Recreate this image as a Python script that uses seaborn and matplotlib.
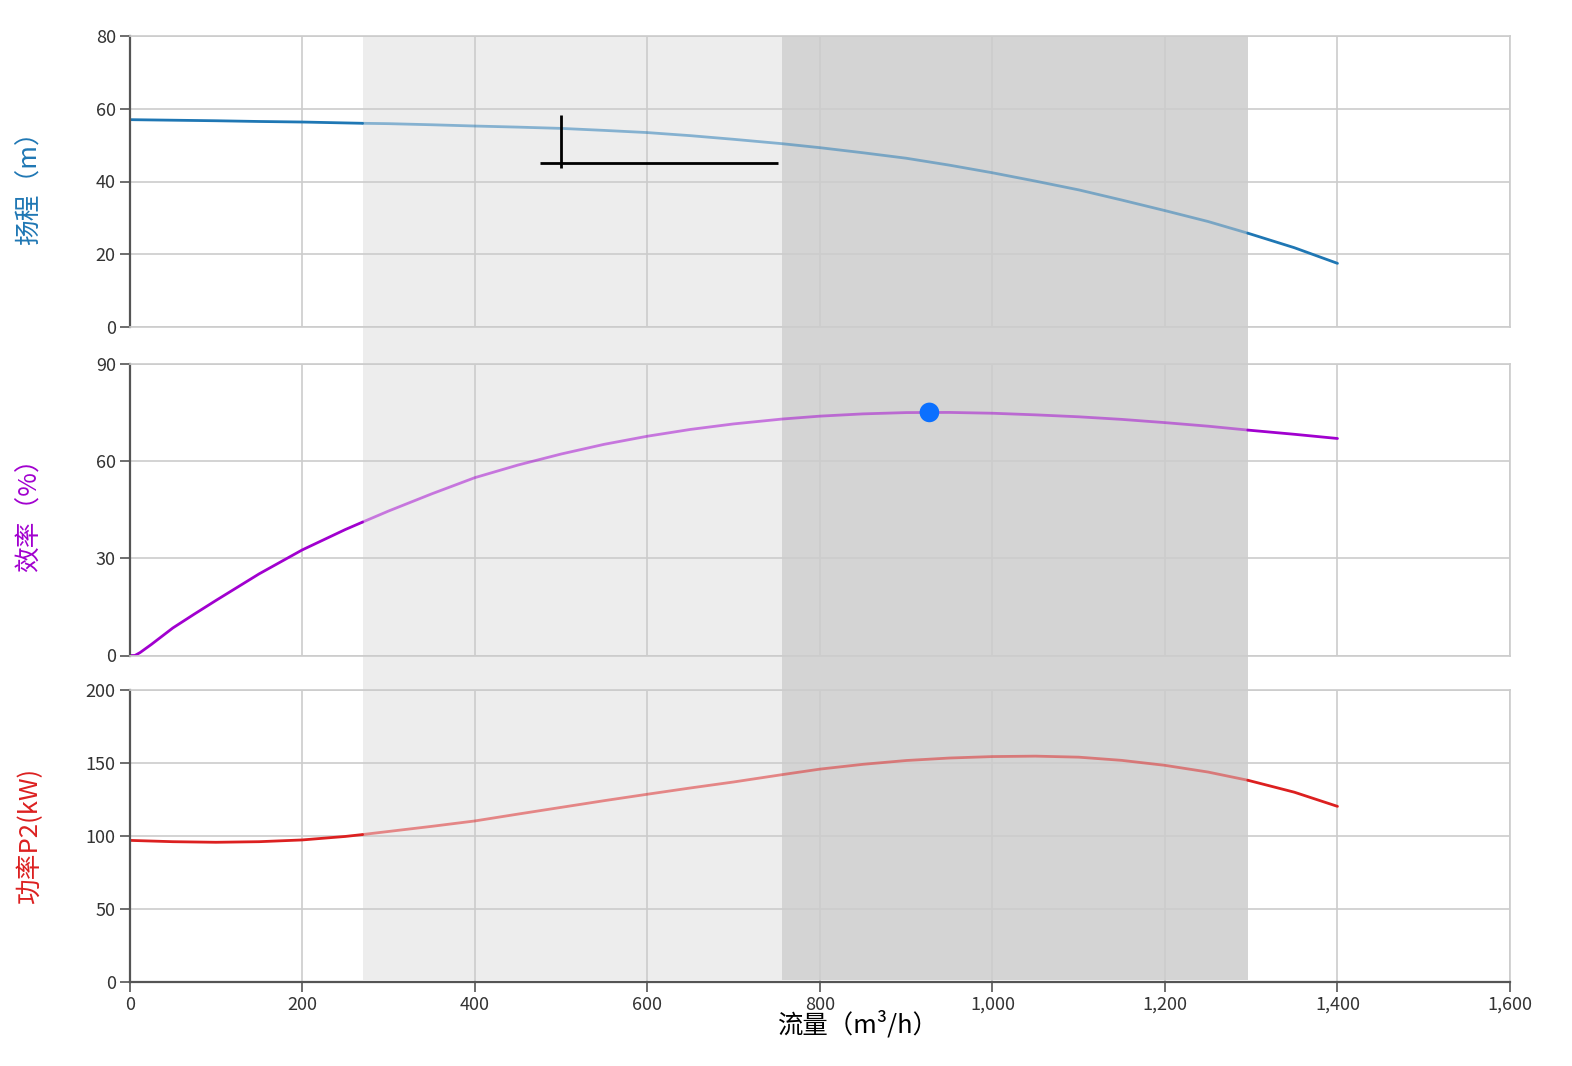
import numpy as np
import pandas as pd
import matplotlib
matplotlib.use("Agg")
import matplotlib.pyplot as plt
import seaborn as sns
from matplotlib.ticker import FuncFormatter, MultipleLocator

sns.set_theme(style="white")
plt.rcParams['font.family'] = ['Noto Sans CJK SC', 'DejaVu Sans']

# ---------------- data ----------------
q_head = [0, 50, 100, 150, 200, 250, 270, 300, 350, 400, 450, 500, 550, 600, 650, 700, 756,
          800, 850, 900, 950, 1000, 1050, 1100, 1150, 1200, 1250, 1296, 1350, 1400]
head = [57.0, 56.85, 56.7, 56.5, 56.35, 56.1, 56.0, 55.9, 55.6, 55.25, 54.95, 54.6, 54.05, 53.45,
        52.6, 51.6, 50.4, 49.3, 47.9, 46.4, 44.5, 42.4, 40.1, 37.7, 34.9, 32.0, 29.0, 25.8, 21.8, 17.5]

q_eff = [0, 6, 12, 25, 50, 75, 100, 150, 200, 250, 270, 300, 350, 400, 450, 500, 550, 600, 650,
         700, 756, 800, 850, 900, 950, 1000, 1050, 1100, 1150, 1200, 1250, 1296, 1350, 1400]
eff = [0.0, 0.0, 0.9, 3.4, 8.5, 12.8, 17.0, 25.2, 32.6, 38.9, 41.2, 44.6, 49.9, 54.9, 58.8, 62.2,
       65.2, 67.7, 69.8, 71.5, 73.0, 73.9, 74.6, 75.0, 75.05, 74.8, 74.3, 73.7, 72.9, 71.9, 70.8,
       69.6, 68.3, 67.0]

q_pow = [0, 50, 100, 150, 200, 250, 270, 300, 350, 400, 450, 500, 550, 600, 650, 700, 756, 800,
         850, 900, 950, 1000, 1050, 1100, 1150, 1200, 1250, 1296, 1350, 1400]
power = [97.0, 96.1, 95.7, 96.1, 97.3, 99.7, 101.0, 103.1, 106.6, 110.3, 115.0, 119.6, 124.2,
         128.6, 132.9, 137.0, 142.0, 145.8, 149.1, 151.7, 153.4, 154.4, 154.7, 154.0, 151.8,
         148.4, 143.8, 138.2, 130.0, 120.3]

bep_q = [927]
bep_eff = [75.05]

# duty point cross (flow span / head span)
duty_q = [500]
duty_h = [45.0]
duty_q_span = [476, 752]
duty_h_span = [43.8, 58.2]

band_light = [270, 756]
band_dark = [756, 1296]

x_ticks = [0, 200, 400, 600, 800, 1000, 1200, 1400, 1600]

C_HEAD = "#1f77b4"
C_EFF = "#a100cf"
C_POW = "#dc2020"
GRID = "#cccccc"
SPINE = "#555555"

# ---------------- figure ----------------
W, H = 1572, 1066
fig = plt.figure(figsize=(W / 100, H / 100), dpi=100)

left = 129.7 / W
width = (1510 - 129.7) / W

def fy(top_px, bot_px):
    return [left, 1 - bot_px / H, width, (bot_px - top_px) / H]

# background axes holding the shaded bands
bg = fig.add_axes(fy(36, 980), zorder=0)
bg.set_xlim(0, 1600)
bg.set_ylim(0, 1)
bg.axvspan(band_light[0], band_light[1], color="#ededed", lw=0)
bg.axvspan(band_dark[0], band_dark[1], color="#d4d4d4", lw=0)
bg.axis("off")

ax1 = fig.add_axes(fy(36, 327), zorder=2)
ax2 = fig.add_axes(fy(364, 655.5), zorder=2)
ax3 = fig.add_axes(fy(690, 982), zorder=2)
axes = [ax1, ax2, ax3]

def seg_plot(ax, xs, ys, color):
    df = pd.DataFrame({"q": xs, "v": ys})
    lo = df[df.q <= band_light[0]]
    mid = df[(df.q >= band_light[0]) & (df.q <= band_dark[1])]
    hi = df[df.q >= band_dark[1]]
    kw = dict(x="q", y="v", ax=ax, sort=False, estimator=None, lw=2.0)
    sns.lineplot(data=lo, color=color, **kw)
    sns.lineplot(data=mid, color=color, alpha=0.5, **kw)
    sns.lineplot(data=hi, color=color, **kw)

seg_plot(ax1, q_head, head, C_HEAD)
seg_plot(ax2, q_eff, eff, C_EFF)
seg_plot(ax3, q_pow, power, C_POW)

# duty cross
ax1.plot(duty_q_span, [duty_h[0], duty_h[0]], color="black", lw=2.0, solid_capstyle="butt")
ax1.plot([duty_q[0], duty_q[0]], duty_h_span, color="black", lw=2.0, solid_capstyle="butt")

# best efficiency point
sns.scatterplot(x=bep_q, y=bep_eff, ax=ax2, color="#0b70ff", s=200, edgecolor="none", zorder=5)

ylims = [(0, 80, 20), (0, 90, 30), (0, 200, 50)]
for ax, (lo, hi, st) in zip(axes, ylims):
    ax.set_facecolor("none")
    ax.set_xlim(0, 1600)
    ax.set_ylim(lo, hi)
    ax.yaxis.set_major_locator(MultipleLocator(st))
    ax.set_xticks(x_ticks)
    ax.set_axisbelow(True)
    ax.grid(True, color=GRID, lw=1.2)
    ax.set_xlabel("")
    ax.set_ylabel("")
    for s in ["top", "right", "bottom"]:
        ax.spines[s].set_color(GRID)
        ax.spines[s].set_linewidth(1.2)
    ax.spines["left"].set_color(SPINE)
    ax.spines["left"].set_linewidth(1.6)
    ax.tick_params(axis="y", direction="out", length=7, width=1.2, color=SPINE,
                   labelsize=13, labelcolor="#333333", pad=3, left=True)
    ax.tick_params(axis="x", bottom=False, labelbottom=False)

ax3.spines["bottom"].set_color(SPINE)
ax3.spines["bottom"].set_linewidth(1.6)
ax3.tick_params(axis="x", bottom=True, labelbottom=True, direction="out", length=7,
                width=1.2, color=SPINE, labelsize=13, labelcolor="#333333", pad=3)
ax3.xaxis.set_major_formatter(FuncFormatter(lambda v, p: f"{int(v):,}"))

# y labels
fig.text(30 / W, 1 - 182 / H, "扬程（m）", rotation=90, ha="center", va="center",
         color=C_HEAD, fontsize=18.5)
fig.text(30 / W, 1 - 509 / H, "效率（%）", rotation=90, ha="center", va="center",
         color=C_EFF, fontsize=18.5)
fig.text(30 / W, 1 - 836 / H, "功率P2(kW)", rotation=90, ha="center", va="center",
         color=C_POW, fontsize=18.5)
# x label
fig.text(858 / W, 1 - 1025 / H, "流量（m³/h）", ha="center", va="center",
         color="black", fontsize=18.3)

fig.savefig("out.png", dpi=100)
